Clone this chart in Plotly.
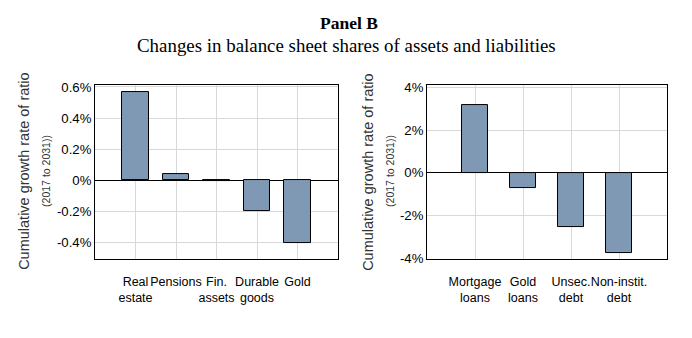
import plotly.graph_objects as go

W, H = 692, 338

assets_labels = ["Real<br>estate", "Pensions", "Fin.<br>assets", "Durable<br>goods", "Gold"]
assets_values = [0.0057, 0.00042, -0.00006, -0.00196, -0.00403]

liab_labels = ["Mortgage<br>loans", "Gold<br>loans", "Unsec.<br>debt", "Non-instit.<br>debt"]
liab_values = [0.0317, -0.0069, -0.0252, -0.0376]

left_ticks = [-0.004, -0.002, 0, 0.002, 0.004, 0.006]
left_ticktext = ["-0.4%", "-0.2%", "0%", "0.2%", "0.4%", "0.6%"]
right_ticks = [-0.04, -0.02, 0, 0.02, 0.04]
right_ticktext = ["-4%", "-2%", "0%", "2%", "4%"]

title_main = "Panel B"
title_sub = "Changes in balance sheet shares of assets and liabilities"
ytitle = "Cumulative growth rate of ratio"
ysub = "(2017 to 2031))"

bar_color = "#7f98b3"
grid_color = "#d9d9d9"
sans = "Liberation Sans, Arial, sans-serif"
xtick_font = dict(family=sans, size=12.5, color="#000")
ytick_font = dict(family=sans, size=13.2, color="#000")

fig = go.Figure()
fig.add_trace(go.Bar(x=list(range(len(assets_values))), y=assets_values, width=0.65,
                     marker=dict(color=bar_color, line=dict(color="#000", width=1)),
                     xaxis="x", yaxis="y", showlegend=False))
fig.add_trace(go.Bar(x=list(range(len(liab_values))), y=liab_values, width=0.54,
                     marker=dict(color=bar_color, line=dict(color="#000", width=1)),
                     xaxis="x2", yaxis="y2", showlegend=False))

ydom = [1 - 263 / H, 1 - 83 / H]
common_x = dict(showgrid=True, gridcolor=grid_color, gridwidth=1, showline=True, linecolor="#000",
                linewidth=1, mirror=True, ticks="", tickfont=xtick_font, zeroline=False,
                tickangle=0, ticklabelstandoff=11)
common_y = dict(showgrid=True, gridcolor=grid_color, gridwidth=1, showline=True, linecolor="#000",
                linewidth=1, mirror=True, ticks="", tickfont=ytick_font, zeroline=True,
                zerolinecolor="#000", zerolinewidth=1)

fig.update_layout(
    width=W, height=H, margin=dict(l=0, r=0, t=0, b=0),
    paper_bgcolor="white", plot_bgcolor="white",
    bargap=0,
    xaxis=dict(domain=[95 / W, 338 / W], range=[-1, 5], tickvals=list(range(len(assets_labels))),
               ticktext=assets_labels, anchor="y", **common_x),
    yaxis=dict(domain=ydom, range=[-0.00505, 0.00612], tickvals=left_ticks, ticktext=left_ticktext,
               anchor="x", **common_y),
    xaxis2=dict(domain=[427 / W, 667 / W], range=[-1, 4], tickvals=list(range(len(liab_labels))),
                ticktext=liab_labels, anchor="y2", **common_x),
    yaxis2=dict(domain=ydom, range=[-0.0401, 0.041], tickvals=right_ticks, ticktext=right_ticktext,
                anchor="x2", **common_y),
)

serif = "Liberation Serif, Times New Roman, serif"
ann = [
    dict(text="<b>" + title_main + "</b>", x=349 / W, y=1 - 19 / H, font=dict(family=serif, size=17.5)),
    dict(text=title_sub, x=346 / W, y=1 - 42 / H, font=dict(family=serif, size=18.9)),
    dict(text=ytitle, x=24 / W, y=1 - 173 / H, textangle=-90,
         font=dict(family=sans, size=14.5, color="#333")),
    dict(text=ysub, x=46 / W, y=1 - 172 / H, textangle=-90,
         font=dict(family=sans, size=10.5, color="#333")),
    dict(text=ytitle, x=368 / W, y=1 - 173 / H, textangle=-90,
         font=dict(family=sans, size=14.5, color="#333")),
    dict(text=ysub, x=390 / W, y=1 - 172 / H, textangle=-90,
         font=dict(family=sans, size=10.5, color="#333")),
]
for a in ann:
    a.update(xref="paper", yref="paper", showarrow=False, xanchor="center", yanchor="middle")
    a["font"].setdefault("color", "#000")
fig.update_layout(annotations=ann)

fig.write_html("out.html")
